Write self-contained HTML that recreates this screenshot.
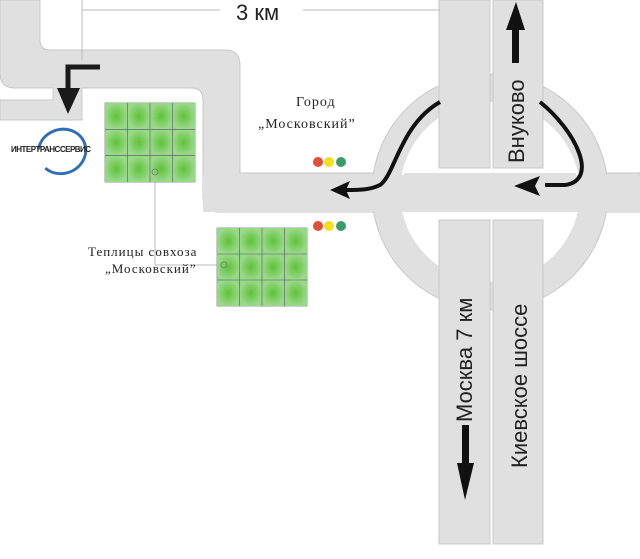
<!DOCTYPE html><html><head><meta charset="utf-8"><style>body{margin:0;background:#fff}svg{display:block}</style></head><body>
<svg width="640" height="559" viewBox="0 0 640 559" xmlns="http://www.w3.org/2000/svg">
<defs>
<radialGradient id="g"><stop offset="0" stop-color="#5fc23a"/><stop offset="1" stop-color="#9ad98a"/></radialGradient>
<pattern id="gp" width="22.5" height="26.3" patternUnits="userSpaceOnUse"><rect width="22.5" height="26.3" fill="url(#g)"/></pattern>
</defs>
<g fill="#e0e0e0" stroke="#c8c8c8" stroke-width="1">
<!-- left upper road -->
<path d="M0,0 H40 V40 Q40,50 50,50 H225 Q240,50 240,65 V173 H640 V212 H218 Q203,212 203,197 V100 Q203,88 191,88 H82 V120 H0 V100 H53 V88 H15 Q0,88 0,73 Z"/>
<!-- ring -->
<circle cx="490" cy="192" r="118"/>
</g>
<circle cx="490" cy="192" r="90" fill="#fff"/>
<rect x="203" y="175" width="437" height="37" fill="#e0e0e0"/>
<rect x="404" y="173" width="172" height="39" fill="#e0e0e0"/>
<g fill="#e0e0e0" stroke="#c8c8c8">
<rect x="439" y="0" width="51" height="168"/>
<rect x="493" y="0" width="50" height="168"/>
<rect x="439" y="220" width="51" height="324"/>
<rect x="493" y="220" width="50" height="324"/>
</g>
<!-- 3 km line -->
<g stroke="#bbb" fill="none">
<path d="M82,10 H220 M303,10 H440"/>
<path d="M82,0 V60"/>
<path d="M155,172 V250 M155,250 V265 H222"/>
</g>
<text x="236" y="20" font-family="Liberation Sans,sans-serif" font-size="22" fill="#222">3 км</text>
<!-- left arrow -->
<path d="M100,67 H68 V95" stroke="#1a1a1a" stroke-width="5" fill="none"/>
<polygon points="57,88 80,88 68,114" fill="#1a1a1a"/>
<!-- logo -->
<path d="M40,142 A24,22 0 1 1 40,162" stroke="#2e6fb5" stroke-width="3" fill="none" transform="rotate(-20 60 150)"/>
<text x="11" y="152" font-family="Liberation Sans,sans-serif" font-size="8" font-weight="bold" fill="#222" letter-spacing="-0.5">ИНТЕРТРАНССЕРВИС</text>
<!-- greenhouses -->
<g stroke="#556" stroke-width="0.6">
<rect x="105" y="103" width="90" height="79" fill="url(#gp)"/>
<path d="M127.5,103V182M150,103V182M172.5,103V182M105,129.3H195M105,155.6H195" fill="none"/>
</g>
<g stroke="#556" stroke-width="0.6">
<rect x="217" y="228" width="90" height="78" fill="#9ad98a"/>
<g fill="url(#g)" stroke="none">
<rect x="217" y="228" width="22.5" height="26"/><rect x="239.5" y="228" width="22.5" height="26"/><rect x="262" y="228" width="22.5" height="26"/><rect x="284.5" y="228" width="22.5" height="26"/>
<rect x="217" y="254" width="22.5" height="26"/><rect x="239.5" y="254" width="22.5" height="26"/><rect x="262" y="254" width="22.5" height="26"/><rect x="284.5" y="254" width="22.5" height="26"/>
<rect x="217" y="280" width="22.5" height="26"/><rect x="239.5" y="280" width="22.5" height="26"/><rect x="262" y="280" width="22.5" height="26"/><rect x="284.5" y="280" width="22.5" height="26"/>
</g>
<path d="M239.5,228V306M262,228V306M284.5,228V306M217,254H307M217,280H307" fill="none"/>
</g>
<g fill="url(#g)" stroke="none">
<rect x="105" y="103" width="22.5" height="26.3"/><rect x="127.5" y="103" width="22.5" height="26.3"/><rect x="150" y="103" width="22.5" height="26.3"/><rect x="172.5" y="103" width="22.5" height="26.3"/>
<rect x="105" y="129.3" width="22.5" height="26.3"/><rect x="127.5" y="129.3" width="22.5" height="26.3"/><rect x="150" y="129.3" width="22.5" height="26.3"/><rect x="172.5" y="129.3" width="22.5" height="26.3"/>
<rect x="105" y="155.6" width="22.5" height="26.4"/><rect x="127.5" y="155.6" width="22.5" height="26.4"/><rect x="150" y="155.6" width="22.5" height="26.4"/><rect x="172.5" y="155.6" width="22.5" height="26.4"/>
</g>
<path d="M127.5,103V182M150,103V182M172.5,103V182M105,129.3H195M105,155.6H195" stroke="#556" stroke-width="0.6" fill="none"/>
<circle cx="155" cy="172" r="3" fill="none" stroke="#777" stroke-width="0.7"/>
<circle cx="224" cy="265" r="3" fill="none" stroke="#777" stroke-width="0.7"/>
<!-- traffic lights -->
<circle cx="318" cy="162" r="5" fill="#e0503a"/><circle cx="329" cy="162" r="5" fill="#f0e020"/><circle cx="341" cy="162" r="5" fill="#3d9a6a"/>
<circle cx="318" cy="226" r="5" fill="#e0503a"/><circle cx="329" cy="226" r="5" fill="#f0e020"/><circle cx="341" cy="226" r="5" fill="#3d9a6a"/>
<!-- labels -->
<g font-family="Liberation Serif,serif" font-size="14" fill="#222" letter-spacing="1">
<text x="296" y="106">Город</text>
<text x="258" y="128">„Московский”</text>
<text x="88" y="256" font-size="13">Теплицы совхоза</text>
<text x="105" y="273" font-size="13">„Московский”</text>
</g>
<!-- ring arrows -->
<path d="M440,102 C400,125 395,175 380,185 C370,190 360,190 345,190" stroke="#111" stroke-width="4" fill="none"/>
<polygon points="330,190 350,181 346,190 350,199" fill="#111"/>
<path d="M540,102 C575,130 600,180 565,185 H545" stroke="#111" stroke-width="4" fill="none"/>
<polygon points="514,186 540,176 535,186 540,196" fill="#111"/>
<!-- road texts -->
<g font-family="Liberation Sans,sans-serif" font-size="22" fill="#222">
<text transform="translate(524,163) rotate(-90)">Внуково</text>
<text transform="translate(472,422) rotate(-90)">Москва 7 км</text>
<text transform="translate(527,468) rotate(-90)">Киевское шоссе</text>
</g>
<rect x="512" y="28" width="7" height="35" fill="#111"/>
<polygon points="506,30 525,30 516,2" fill="#111"/>
<rect x="462" y="425" width="7" height="45" fill="#111"/>
<polygon points="457,463 474,463 465,500" fill="#111"/>
</svg>
</body></html>
